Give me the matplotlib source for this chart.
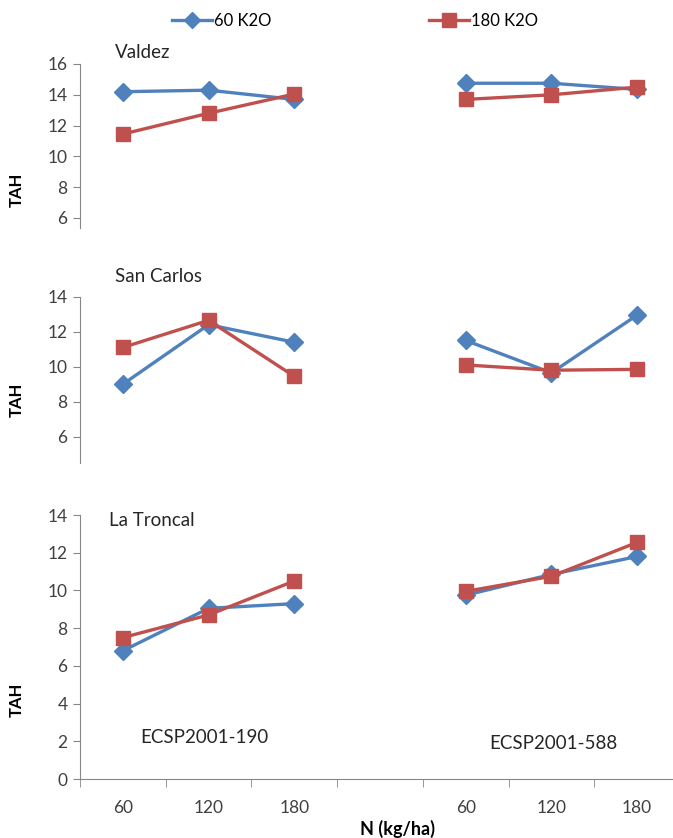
import numpy as np
import matplotlib
matplotlib.use("Agg")
import matplotlib.pyplot as plt
from matplotlib.lines import Line2D

plt.rcParams['font.family'] = ['Lato', 'DejaVu Sans']

# Category axis: two clones, empty slot in between
n_labels = ['60', '120', '180', '', '60', '120', '180']
nan = np.nan

sites = ['Valdez', 'San Carlos', 'La Troncal']

# TAH values, 60 K2O (blue) and 180 K2O (red)
valdez_60 = [14.2, 14.3, 13.7, nan, 14.75, 14.75, 14.35]
valdez_180 = [11.45, 12.8, 14.05, nan, 13.7, 14.0, 14.5]
sancarlos_60 = [9.0, 12.4, 11.4, nan, 11.5, 9.65, 12.95]
sancarlos_180 = [11.1, 12.65, 9.45, nan, 10.1, 9.8, 9.85]
troncal_60 = [6.8, 9.05, 9.3, nan, 9.75, 10.85, 11.8]
troncal_180 = [7.5, 8.7, 10.5, nan, 9.95, 10.75, 12.55]

clones = ['ECSP2001-190', 'ECSP2001-588']

blue = '#4F81BD'
red = '#C0504D'
grey = '#868686'
txt = '#262626'

W, H = 673, 838
fig = plt.figure(figsize=(W / 100, H / 100), dpi=100)


def px_axes(top, bottom, left=80, right=680):
    return fig.add_axes([left / W, 1 - bottom / H, (right - left) / W, (bottom - top) / H])


panels = [
    (px_axes(64, 228), valdez_60, valdez_180, (5.35, 16), [6, 8, 10, 12, 14, 16]),
    (px_axes(296.7, 463), sancarlos_60, sancarlos_180, (4.5, 14), [6, 8, 10, 12, 14]),
    (px_axes(515, 779), troncal_60, troncal_180, (0, 14), [0, 2, 4, 6, 8, 10, 12, 14]),
]

x = np.arange(len(n_labels))

for k, (ax, s60, s180, ylim, yt) in enumerate(panels):
    ax.plot(x, s60, color=blue, lw=2.4, marker='D', ms=9, mec=blue, zorder=3)
    ax.plot(x, s180, color=red, lw=2.4, marker='s', ms=10.5, mec=red, zorder=4)
    ax.set_xlim(-0.5, len(n_labels) - 0.5)
    ax.set_ylim(*ylim)
    ax.set_yticks(yt)
    for s in ['top', 'right']:
        ax.spines[s].set_visible(False)
    ax.spines['left'].set_color(grey)
    ax.tick_params(axis='y', direction='out', length=5, color=grey,
                   labelsize=12.5, labelcolor='#404040', pad=4)
    if k < 2:
        ax.spines['bottom'].set_visible(False)
        ax.set_xticks([])
    else:
        ax.spines['bottom'].set_color(grey)
        ax.set_xticks(x)
        ax.set_xticklabels(n_labels)
        ax.set_xticks(np.arange(-0.5, len(n_labels), 1), minor=True)
        ax.tick_params(axis='x', which='major', length=0, labelsize=12.5,
                       labelcolor='#404040', pad=15)
        ax.tick_params(axis='x', which='minor', direction='out', length=6, color=grey)
    ax.set_facecolor('none')

# site titles
fig.text(115 / W, 1 - 53 / H, sites[0], fontsize=13.5, va='center', ha='left', color=txt)
fig.text(115 / W, 1 - 276 / H, sites[1], fontsize=13.5, va='center', ha='left', color=txt)
fig.text(109 / W, 1 - 520 / H, sites[2], fontsize=13.5, va='center', ha='left', color=txt)

# clone names
fig.text(204 / W, 1 - 737 / H, clones[0], fontsize=13.5, va='center', ha='center', color=txt)
fig.text(553 / W, 1 - 743 / H, clones[1], fontsize=13.5, va='center', ha='center', color=txt)

# y labels
for yc in [190, 400, 700]:
    fig.text(17 / W, 1 - yc / H, 'TAH', rotation=90, fontsize=12, fontweight='bold',
             va='center', ha='center')

fig.text(398 / W, 1 - 829 / H, 'N (kg/ha)', fontsize=13, fontweight='bold',
         va='center', ha='center')

handles = [
    Line2D([], [], color=blue, lw=2.4, marker='D', ms=8, mec=blue),
    Line2D([], [], color=red, lw=2.4, marker='s', ms=9.5, mec=red),
]
fig.legend(handles, ['60 K2O', '180 K2O'], loc='center', bbox_to_anchor=(355 / W, 1 - 21 / H),
           ncol=2, frameon=False, fontsize=12, handlelength=2.4, handletextpad=0.1,
           columnspacing=9.5)

fig.savefig('out.png', dpi=100)
